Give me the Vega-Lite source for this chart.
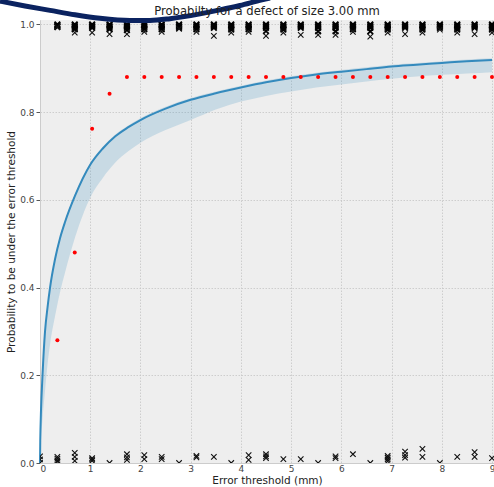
{
  "$schema": "https://vega.github.io/schema/vega-lite/v6.json",
  "width": 454,
  "height": 443,
  "autosize": {"type": "none"},
  "padding": {"left": 40, "top": 20, "right": 0, "bottom": 24},
  "title": {"text": "Probabilty for a defect of size 3.00 mm", "font": "DejaVu Sans", "fontSize": 11.6, "fontWeight": "normal", "color": "#222222", "offset": 4, "dy": 34},
  "datasets": {
    "curve": [
      {"x": 0, "mean": 0, "lo": 0, "hi": 0.004},
      {"x": 0.005, "mean": 0.05, "lo": 0.012, "hi": 0.054},
      {"x": 0.01, "mean": 0.08, "lo": 0.025, "hi": 0.084},
      {"x": 0.02, "mean": 0.12, "lo": 0.05, "hi": 0.124},
      {"x": 0.05, "mean": 0.2, "lo": 0.1, "hi": 0.204},
      {"x": 0.1, "mean": 0.3, "lo": 0.165, "hi": 0.304},
      {"x": 0.15, "mean": 0.355, "lo": 0.225, "hi": 0.359},
      {"x": 0.2, "mean": 0.4, "lo": 0.27, "hi": 0.404},
      {"x": 0.3, "mean": 0.465, "lo": 0.335, "hi": 0.469},
      {"x": 0.4, "mean": 0.513, "lo": 0.39, "hi": 0.517},
      {"x": 0.5, "mean": 0.55, "lo": 0.435, "hi": 0.554},
      {"x": 0.7, "mean": 0.61, "lo": 0.515, "hi": 0.614},
      {"x": 1.0, "mean": 0.68, "lo": 0.605, "hi": 0.684},
      {"x": 1.25, "mean": 0.717, "lo": 0.65, "hi": 0.721},
      {"x": 1.5, "mean": 0.745, "lo": 0.685, "hi": 0.749},
      {"x": 1.75, "mean": 0.765, "lo": 0.71, "hi": 0.769},
      {"x": 2.0, "mean": 0.782, "lo": 0.73, "hi": 0.786},
      {"x": 2.5, "mean": 0.808, "lo": 0.759, "hi": 0.812},
      {"x": 3.0, "mean": 0.828, "lo": 0.782, "hi": 0.832},
      {"x": 3.5, "mean": 0.843, "lo": 0.806, "hi": 0.847},
      {"x": 4.0, "mean": 0.856, "lo": 0.824, "hi": 0.86},
      {"x": 4.5, "mean": 0.868, "lo": 0.837, "hi": 0.872},
      {"x": 5.0, "mean": 0.878, "lo": 0.847, "hi": 0.882},
      {"x": 5.5, "mean": 0.886, "lo": 0.856, "hi": 0.89},
      {"x": 6.0, "mean": 0.892, "lo": 0.863, "hi": 0.896},
      {"x": 6.5, "mean": 0.898, "lo": 0.87, "hi": 0.902},
      {"x": 7.0, "mean": 0.904, "lo": 0.876, "hi": 0.908},
      {"x": 7.5, "mean": 0.908, "lo": 0.881, "hi": 0.912},
      {"x": 8.0, "mean": 0.912, "lo": 0.885, "hi": 0.916},
      {"x": 8.5, "mean": 0.916, "lo": 0.888, "hi": 0.92},
      {"x": 9.0, "mean": 0.919, "lo": 0.891, "hi": 0.923}
    ],
    "red": [
      {"x": 0.346, "p": 0.28}, {"x": 0.692, "p": 0.48}, {"x": 1.038, "p": 0.762}, {"x": 1.385, "p": 0.842},
      {"x": 1.731, "p": 0.88}, {"x": 2.077, "p": 0.88}, {"x": 2.423, "p": 0.88}, {"x": 2.769, "p": 0.88},
      {"x": 3.115, "p": 0.88}, {"x": 3.462, "p": 0.88}, {"x": 3.808, "p": 0.88}, {"x": 4.154, "p": 0.88},
      {"x": 4.5, "p": 0.88}, {"x": 4.846, "p": 0.88}, {"x": 5.192, "p": 0.88}, {"x": 5.538, "p": 0.88},
      {"x": 5.885, "p": 0.88}, {"x": 6.231, "p": 0.88}, {"x": 6.577, "p": 0.88}, {"x": 6.923, "p": 0.88},
      {"x": 7.269, "p": 0.88}, {"x": 7.615, "p": 0.88}, {"x": 7.962, "p": 0.88}, {"x": 8.308, "p": 0.88},
      {"x": 8.654, "p": 0.88}, {"x": 9.0, "p": 0.88}
    ],
    "top": [
      {"x": 0.346, "low": 0.994}, {"x": 0.692, "low": 0.981}, {"x": 1.038, "low": 0.981}, {"x": 1.385, "low": 0.978},
      {"x": 1.731, "low": 0.978}, {"x": 2.077, "low": 0.983}, {"x": 2.423, "low": 0.983}, {"x": 2.769, "low": 0.99},
      {"x": 3.115, "low": 0.983}, {"x": 3.462, "low": 0.974}, {"x": 3.808, "low": 0.981}, {"x": 4.154, "low": 0.983},
      {"x": 4.5, "low": 0.974}, {"x": 4.846, "low": 0.981}, {"x": 5.192, "low": 0.976}, {"x": 5.538, "low": 0.976},
      {"x": 5.885, "low": 0.976}, {"x": 6.231, "low": 0.983}, {"x": 6.577, "low": 0.972}, {"x": 6.923, "low": 0.981},
      {"x": 7.269, "low": 0.978}, {"x": 7.615, "low": 0.981}, {"x": 7.962, "low": 0.988}, {"x": 8.308, "low": 0.981},
      {"x": 8.654, "low": 0.978}, {"x": 9.0, "low": 0.981}
    ],
    "topdense": [
      {"x": 0.346, "y": 1.0}, {"x": 0.346, "y": 0.998}, {"x": 0.346, "y": 0.996}, {"x": 0.346, "y": 0.994},
      {"x": 0.692, "y": 1.0}, {"x": 0.692, "y": 0.998}, {"x": 0.692, "y": 0.995}, {"x": 0.692, "y": 0.992}, {"x": 0.692, "y": 0.989},
      {"x": 1.038, "y": 1.0}, {"x": 1.038, "y": 0.998}, {"x": 1.038, "y": 0.995}, {"x": 1.038, "y": 0.992},
      {"x": 1.385, "y": 1.0}, {"x": 1.385, "y": 0.998}, {"x": 1.385, "y": 0.995}, {"x": 1.385, "y": 0.992}, {"x": 1.385, "y": 0.989},
      {"x": 1.731, "y": 1.0}, {"x": 1.731, "y": 0.998}, {"x": 1.731, "y": 0.995}, {"x": 1.731, "y": 0.992}, {"x": 1.731, "y": 0.987},
      {"x": 2.077, "y": 1.0}, {"x": 2.077, "y": 0.998}, {"x": 2.077, "y": 0.995}, {"x": 2.077, "y": 0.992}, {"x": 2.077, "y": 0.989},
      {"x": 2.423, "y": 1.0}, {"x": 2.423, "y": 0.998}, {"x": 2.423, "y": 0.995}, {"x": 2.423, "y": 0.992}, {"x": 2.423, "y": 0.989},
      {"x": 2.769, "y": 1.0}, {"x": 2.769, "y": 0.998}, {"x": 2.769, "y": 0.995}, {"x": 2.769, "y": 0.992},
      {"x": 3.115, "y": 1.0}, {"x": 3.115, "y": 0.998}, {"x": 3.115, "y": 0.995}, {"x": 3.115, "y": 0.992}, {"x": 3.115, "y": 0.989},
      {"x": 3.462, "y": 1.0}, {"x": 3.462, "y": 0.998}, {"x": 3.462, "y": 0.995}, {"x": 3.462, "y": 0.992},
      {"x": 3.808, "y": 1.0}, {"x": 3.808, "y": 0.998}, {"x": 3.808, "y": 0.995}, {"x": 3.808, "y": 0.992}, {"x": 3.808, "y": 0.988},
      {"x": 4.154, "y": 1.0}, {"x": 4.154, "y": 0.998}, {"x": 4.154, "y": 0.995}, {"x": 4.154, "y": 0.992}, {"x": 4.154, "y": 0.989},
      {"x": 4.5, "y": 1.0}, {"x": 4.5, "y": 0.998}, {"x": 4.5, "y": 0.995}, {"x": 4.5, "y": 0.992}, {"x": 4.5, "y": 0.985},
      {"x": 4.846, "y": 1.0}, {"x": 4.846, "y": 0.998}, {"x": 4.846, "y": 0.995}, {"x": 4.846, "y": 0.992}, {"x": 4.846, "y": 0.988},
      {"x": 5.192, "y": 1.0}, {"x": 5.192, "y": 0.998}, {"x": 5.192, "y": 0.995}, {"x": 5.192, "y": 0.992},
      {"x": 5.538, "y": 1.0}, {"x": 5.538, "y": 0.998}, {"x": 5.538, "y": 0.995}, {"x": 5.538, "y": 0.992}, {"x": 5.538, "y": 0.984},
      {"x": 5.885, "y": 1.0}, {"x": 5.885, "y": 0.998}, {"x": 5.885, "y": 0.995}, {"x": 5.885, "y": 0.992}, {"x": 5.885, "y": 0.984},
      {"x": 6.231, "y": 1.0}, {"x": 6.231, "y": 0.998}, {"x": 6.231, "y": 0.995}, {"x": 6.231, "y": 0.992}, {"x": 6.231, "y": 0.989},
      {"x": 6.577, "y": 1.0}, {"x": 6.577, "y": 0.998}, {"x": 6.577, "y": 0.995}, {"x": 6.577, "y": 0.992}, {"x": 6.577, "y": 0.984},
      {"x": 6.923, "y": 1.0}, {"x": 6.923, "y": 0.998}, {"x": 6.923, "y": 0.995}, {"x": 6.923, "y": 0.992}, {"x": 6.923, "y": 0.988},
      {"x": 7.269, "y": 1.0}, {"x": 7.269, "y": 0.998}, {"x": 7.269, "y": 0.995}, {"x": 7.269, "y": 0.992},
      {"x": 7.615, "y": 1.0}, {"x": 7.615, "y": 0.998}, {"x": 7.615, "y": 0.995}, {"x": 7.615, "y": 0.992}, {"x": 7.615, "y": 0.988},
      {"x": 7.962, "y": 1.0}, {"x": 7.962, "y": 0.998}, {"x": 7.962, "y": 0.995}, {"x": 7.962, "y": 0.992},
      {"x": 8.308, "y": 1.0}, {"x": 8.308, "y": 0.998}, {"x": 8.308, "y": 0.995}, {"x": 8.308, "y": 0.992}, {"x": 8.308, "y": 0.988},
      {"x": 8.654, "y": 1.0}, {"x": 8.654, "y": 0.998}, {"x": 8.654, "y": 0.995}, {"x": 8.654, "y": 0.992},
      {"x": 9.0, "y": 1.0}, {"x": 9.0, "y": 0.998}, {"x": 9.0, "y": 0.995}, {"x": 9.0, "y": 0.992}, {"x": 9.0, "y": 0.988}
    ],
    "bottom": [
      {"x": 0, "y": 0.0}, {"x": 0, "y": 0.008}, {"x": 0, "y": 0.015},
      {"x": 0.346, "y": 0.003}, {"x": 0.346, "y": 0.006}, {"x": 0.346, "y": 0.01}, {"x": 0.346, "y": 0.014},
      {"x": 0.692, "y": 0.023}, {"x": 0.692, "y": 0.014}, {"x": 0.692, "y": 0.005},
      {"x": 1.038, "y": 0.005}, {"x": 1.038, "y": 0.008}, {"x": 1.038, "y": 0.011},
      {"x": 1.385, "y": 0.0},
      {"x": 1.731, "y": 0.02}, {"x": 1.731, "y": 0.013}, {"x": 1.731, "y": 0.007},
      {"x": 2.077, "y": 0.018}, {"x": 2.077, "y": 0.009},
      {"x": 2.423, "y": 0.014}, {"x": 2.423, "y": 0.009},
      {"x": 2.769, "y": 0.0},
      {"x": 3.115, "y": 0.016}, {"x": 3.115, "y": 0.013},
      {"x": 3.462, "y": 0.014},
      {"x": 3.808, "y": 0.0},
      {"x": 4.154, "y": 0.018}, {"x": 4.154, "y": 0.007},
      {"x": 4.5, "y": 0.02}, {"x": 4.5, "y": 0.015}, {"x": 4.5, "y": 0.011},
      {"x": 4.846, "y": 0.009},
      {"x": 5.192, "y": 0.009},
      {"x": 5.538, "y": 0.0},
      {"x": 5.885, "y": 0.015}, {"x": 5.885, "y": 0.011},
      {"x": 6.231, "y": 0.02},
      {"x": 6.577, "y": 0.0},
      {"x": 6.923, "y": 0.004}, {"x": 6.923, "y": 0.008}, {"x": 6.923, "y": 0.012}, {"x": 6.923, "y": 0.016},
      {"x": 7.269, "y": 0.026}, {"x": 7.269, "y": 0.018}, {"x": 7.269, "y": 0.012},
      {"x": 7.615, "y": 0.032}, {"x": 7.615, "y": 0.014},
      {"x": 7.962, "y": 0.0},
      {"x": 8.308, "y": 0.014},
      {"x": 8.654, "y": 0.025}, {"x": 8.654, "y": 0.014},
      {"x": 9.0, "y": 0.011}
    ],
    "arc": [
      {"x": -0.797, "y": 1.053}, {"x": -0.299, "y": 1.042}, {"x": 0.199, "y": 1.032},
      {"x": 0.697, "y": 1.022}, {"x": 1.195, "y": 1.014}, {"x": 1.792, "y": 1.009},
      {"x": 2.19, "y": 1.009}, {"x": 2.589, "y": 1.013}, {"x": 3.186, "y": 1.024},
      {"x": 3.584, "y": 1.033}, {"x": 3.982, "y": 1.043}, {"x": 4.42, "y": 1.056}, {"x": 4.58, "y": 1.06}
    ]
  },
  "layer": [
    {
      "data": {"name": "curve"},
      "mark": {"type": "area", "color": "#348ABD", "opacity": 0.2, "interpolate": "monotone"},
      "encoding": {
        "x": {"field": "x", "type": "quantitative", "scale": {"domain": [0, 9.04], "nice": false, "zero": false},
          "axis": {"values": [0,1,2,3,4,5,6,7,8,9], "title": "Error threshold (mm)", "format": "d", "ticks": false, "labelPadding": 1, "titlePadding": 2}},
        "y": {"field": "lo", "type": "quantitative", "scale": {"domain": [0, 1.01], "nice": false},
          "axis": {"values": [0, 0.2, 0.4, 0.6, 0.8, 1.0], "format": ".1f", "title": "Probability to be under the error threshold", "titlePadding": 3}},
        "y2": {"field": "hi"}
      }
    },
    {
      "data": {"name": "curve"},
      "mark": {"type": "line", "color": "#348ABD", "strokeWidth": 2, "interpolate": "monotone"},
      "encoding": {
        "x": {"field": "x", "type": "quantitative"},
        "y": {"field": "mean", "type": "quantitative"}
      }
    },
    {
      "data": {"name": "red"},
      "mark": {"type": "point", "shape": "circle", "filled": true, "color": "#ff0000", "size": 16, "opacity": 1},
      "encoding": {
        "x": {"field": "x", "type": "quantitative"},
        "y": {"field": "p", "type": "quantitative"}
      }
    },
    {
      "data": {"name": "topdense"},
      "mark": {"type": "point", "shape": "M-1,-1L1,1M-1,1L1,-1", "filled": false, "stroke": "#000000", "strokeWidth": 1.8, "size": 32, "opacity": 1, "clip": true},
      "encoding": {
        "x": {"field": "x", "type": "quantitative"},
        "y": {"field": "y", "type": "quantitative"}
      }
    },
    {
      "data": {"name": "top"},
      "mark": {"type": "point", "shape": "M-1,-1L1,1M-1,1L1,-1", "filled": false, "stroke": "#111111", "strokeWidth": 1.1, "size": 30, "opacity": 1, "clip": true},
      "encoding": {
        "x": {"field": "x", "type": "quantitative"},
        "y": {"field": "low", "type": "quantitative"}
      }
    },
    {
      "data": {"name": "bottom"},
      "mark": {"type": "point", "shape": "M-1,-1L1,1M-1,1L1,-1", "filled": false, "stroke": "#111111", "strokeWidth": 1.1, "size": 30, "opacity": 1, "clip": true},
      "encoding": {
        "x": {"field": "x", "type": "quantitative"},
        "y": {"field": "y", "type": "quantitative"}
      }
    },
    {
      "data": {"name": "arc"},
      "mark": {"type": "line", "color": "#0b2360", "strokeWidth": 5, "interpolate": "monotone", "clip": false},
      "encoding": {
        "x": {"field": "x", "type": "quantitative"},
        "y": {"field": "y", "type": "quantitative"}
      }
    }
  ],
  "config": {
    "view": {"fill": "#eeeeee", "stroke": null},
    "font": "DejaVu Sans",
    "axis": {
      "labelFont": "DejaVu Sans", "labelFontSize": 9, "labelColor": "#444444",
      "titleFont": "DejaVu Sans", "titleFontSize": 10.5, "titleFontWeight": "normal", "titleColor": "#222222",
      "gridColor": "#c4c4c4", "gridDash": [1.5, 1.5], "gridWidth": 0.8,
      "domainColor": "#cccccc", "tickColor": "#555555", "tickSize": 4, "labelPadding": 2
    }
  }
}
